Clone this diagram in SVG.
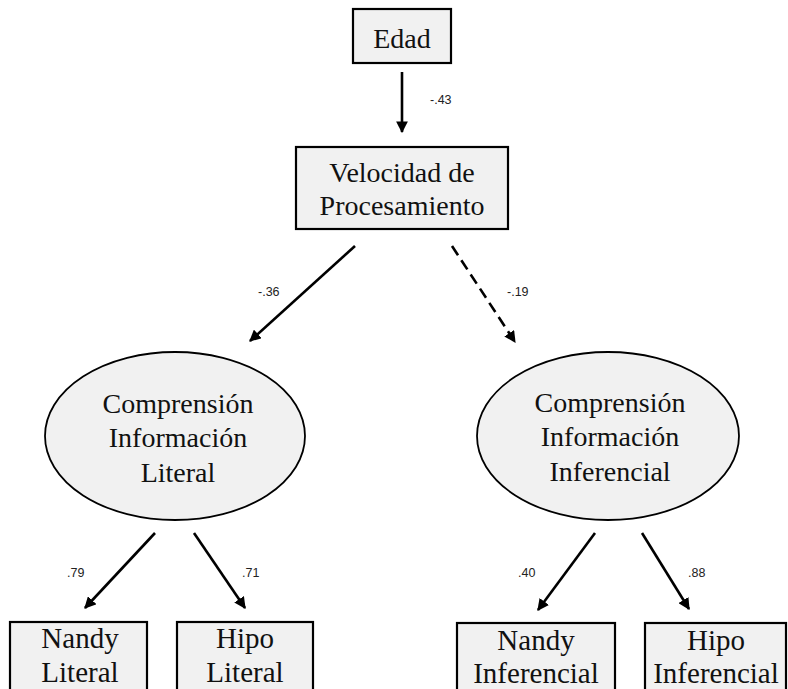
<svg xmlns="http://www.w3.org/2000/svg" width="788" height="689" viewBox="0 0 788 689">
<style>
.box{fill:#f1f1f1;stroke:#000;stroke-width:2.2}
.ell{fill:#f1f1f1;stroke:#000;stroke-width:1.8}
.t{font-family:"Liberation Serif","Times New Roman",serif;font-size:28px;fill:#111;text-anchor:middle}
.tb{font-family:"Liberation Serif","Times New Roman",serif;font-size:29px;fill:#111;text-anchor:middle}
.lbl{font-family:"Liberation Sans",Arial,sans-serif;font-size:12.5px;fill:#222}
.ln{stroke:#000;stroke-width:2.6;fill:none}
.dash{stroke-dasharray:11 6}
</style>
<defs>
<marker id="ah" viewBox="0 0 10 10" refX="9" refY="5" markerWidth="4.5" markerHeight="4.5" markerUnits="strokeWidth" orient="auto">
<path d="M0,0 L10,5 L0,10 z" fill="#000"/>
</marker>
</defs>
<rect width="788" height="689" fill="#fff"/>
<g id="connectors">
<line class="ln" x1="402" y1="72" x2="402" y2="132" marker-end="url(#ah)"/>
<line class="ln" x1="355" y1="246" x2="250" y2="341" marker-end="url(#ah)"/>
<line class="ln dash" x1="452" y1="246" x2="515" y2="342" marker-end="url(#ah)"/>
<line class="ln" x1="155" y1="533" x2="85" y2="608" marker-end="url(#ah)"/>
<line class="ln" x1="194" y1="533" x2="245" y2="608" marker-end="url(#ah)"/>
<line class="ln" x1="595" y1="533" x2="538" y2="610" marker-end="url(#ah)"/>
<line class="ln" x1="642" y1="533" x2="689" y2="609" marker-end="url(#ah)"/>
<text class="lbl" x="430" y="104">-.43</text>
<text class="lbl" x="258" y="296">-.36</text>
<text class="lbl" x="507" y="296">-.19</text>
<text class="lbl" x="67" y="577">.79</text>
<text class="lbl" x="242" y="577">.71</text>
<text class="lbl" x="518" y="577">.40</text>
<text class="lbl" x="688" y="577">.88</text>
</g>
<g id="edad">
<rect class="box" x="353" y="9" width="98" height="54"/>
<text class="t" x="402" y="48">Edad</text>
</g>
<g id="velocidad">
<rect class="box" x="296" y="147" width="212" height="82"/>
<text class="t" x="402" y="182">Velocidad de</text>
<text class="t" x="402" y="215">Procesamiento</text>
</g>
<g id="comp-literal">
<ellipse class="ell" cx="175" cy="436" rx="130" ry="84"/>
<text class="t" x="178" y="413">Comprensión</text>
<text class="t" x="178" y="447">Información</text>
<text class="t" x="178" y="482">Literal</text>
</g>
<g id="comp-inferencial">
<ellipse class="ell" cx="608" cy="436" rx="131" ry="84"/>
<text class="t" x="610" y="412">Comprensión</text>
<text class="t" x="610" y="446">Información</text>
<text class="t" x="610" y="481">Inferencial</text>
</g>
<g id="nandy-literal">
<rect class="box" x="10" y="622" width="137" height="80"/>
<text class="tb" x="80" y="648">Nandy</text>
<text class="tb" x="80" y="682">Literal</text>
</g>
<g id="hipo-literal">
<rect class="box" x="177" y="622" width="136" height="80"/>
<text class="tb" x="245" y="648">Hipo</text>
<text class="tb" x="245" y="682">Literal</text>
</g>
<g id="nandy-inferencial">
<rect class="box" x="457" y="623" width="158" height="80"/>
<text class="tb" x="536" y="650">Nandy</text>
<text class="tb" x="536" y="683">Inferencial</text>
</g>
<g id="hipo-inferencial">
<rect class="box" x="645" y="623" width="141" height="80"/>
<text class="tb" x="716" y="650">Hipo</text>
<text class="tb" x="716" y="683">Inferencial</text>
</g>
</svg>
